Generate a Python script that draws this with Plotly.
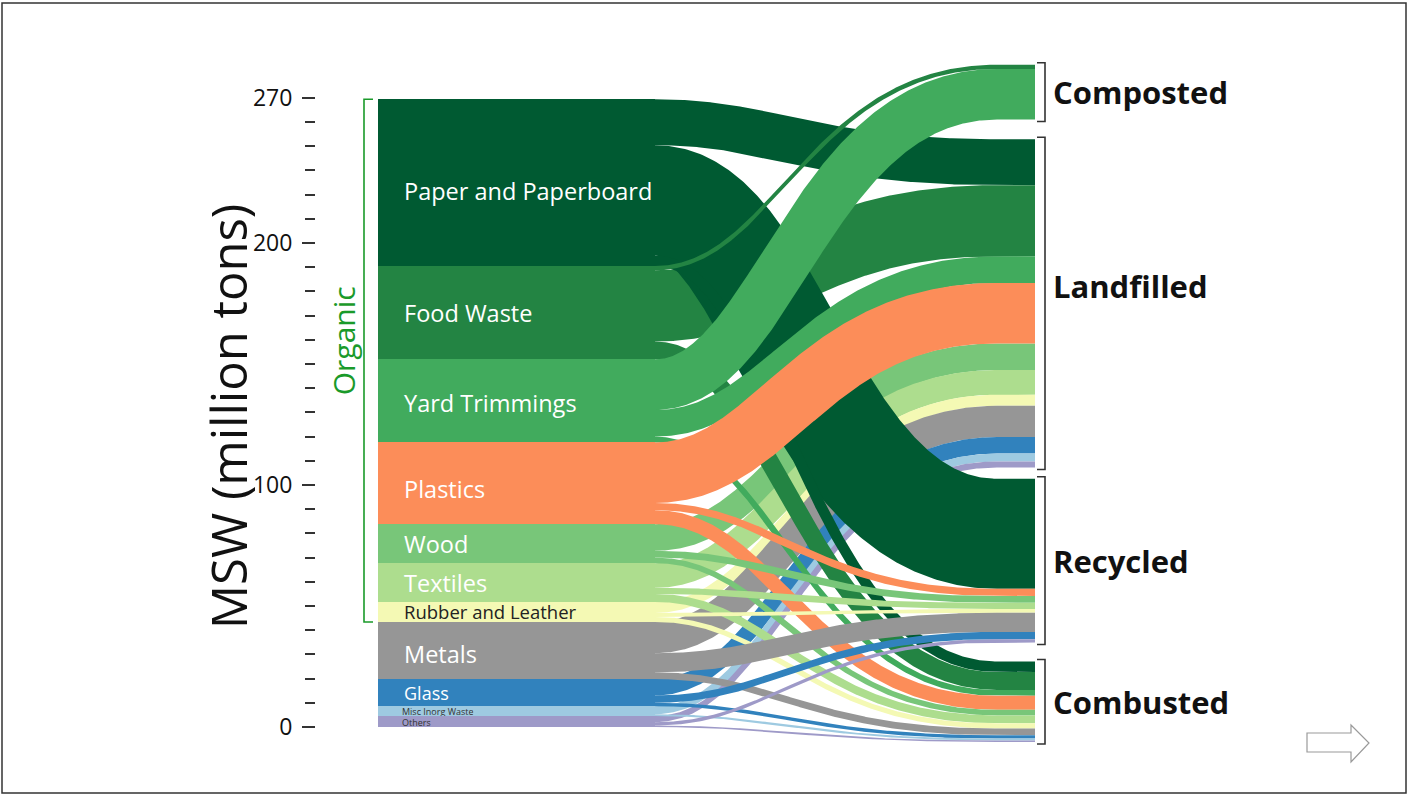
import numpy as np
import plotly.graph_objects as go

# ---------------- data (million tons) ----------------
materials = ["Paper and Paperboard", "Food Waste", "Yard Trimmings", "Plastics", "Wood",
             "Textiles", "Rubber and Leather", "Metals", "Glass", "Misc Inorg Waste", "Others"]
material_colors = ["#005a32", "#238443", "#41ab5d", "#fc8d59", "#78c679",
                   "#addd8e", "#f4f9b4", "#969696", "#3182bd", "#9ecae1", "#9e9ac8"]
label_colors = ["white", "white", "white", "white", "white",
                "white", "#222222", "white", "white", "#333333", "#333333"]
label_sizes = [23.5, 23.5, 23.5, 23.5, 23.5, 23.5, 18.5, 23.5, 18, 9, 9]
label_dy = [-3.5, 0, -1, -2.5, 0, 0, 0, -1.5, 0, 0, 0]
destinations = ["Composted", "Landfilled", "Recycled", "Combusted"]

composted = [0, 1.8, 20.9, 0, 0, 0, 0, 0, 0, 0, 0]
landfilled = [19.0, 29.4, 11.0, 25.0, 11.0, 10.2, 4.6, 12.9, 6.8, 3.3, 2.5]
recycled = [45.5, 0, 0, 3.0, 2.8, 2.5, 1.6, 7.9, 3.0, 0, 1.4]
combusted = [4.4, 7.4, 2.4, 5.8, 2.3, 3.3, 2.1, 2.8, 1.4, 0.8, 0.6]

y_tickvals = [0, 100, 200, 260]
y_ticktext = ["0", "100", "200", "270"]
y_minor_ticks = [v for v in range(10, 260, 10) if v not in (100, 200)]
organic_count = 7  # first seven materials are organic

# ---------------- layout constants ----------------
W, H = 1409, 796
S = 2.42                      # px per unit on both axes
PLOT_L, PLOT_R, PLOT_T, PLOT_B = 316, 1393, 60, 748
X0_PX, Y0_PX = 378, 727       # pixel location of data origin
BAR_W = (655 - 378) / S
LINK_END = (1035 - 378) / S
CURVE_FRAC = 0.9              # share of the link span used by the curve
CTRL1, CTRL2 = 0.35, 0.45     # bezier control point positions (share of curve span)
RIGHT_BASE = -6.2
RIGHT_GAPS = [8.1, 4.6, 7.8]  # gaps between right nodes (top to bottom)
FONT = "Open Sans"

xr = [(PLOT_L - X0_PX) / S, (PLOT_R - X0_PX) / S]
yr = [(Y0_PX - PLOT_B) / S, (Y0_PX - PLOT_T) / S]

flows = [composted, landfilled, recycled, combusted]
n_m = len(materials)
src_size = [sum(f[i] for f in flows) for i in range(n_m)]
total = sum(src_size)

src_top = []
acc = total
for s in src_size:
    src_top.append(acc)
    acc -= s

dst_size = [sum(f) for f in flows]
dst_top = [0] * 4
cur = RIGHT_BASE
for j in range(3, -1, -1):
    dst_top[j] = cur + dst_size[j]
    cur = dst_top[j] + (RIGHT_GAPS[j - 1] if j > 0 else 0)

src_cursor = list(src_top)
src_center = {}
for i in range(n_m):
    for j in range(4):
        v = flows[j][i]
        if v > 0:
            src_center[(i, j)] = src_cursor[i] - v / 2
            src_cursor[i] -= v
dst_cursor = list(dst_top)
dst_center = {}
for j in range(4):
    for i in range(n_m):
        v = flows[j][i]
        if v > 0:
            dst_center[(i, j)] = dst_cursor[j] - v / 2
            dst_cursor[j] -= v
links = [(i, j, flows[j][i], src_center[(i, j)], dst_center[(i, j)])
         for i in range(n_m) for j in range(4) if flows[j][i] > 0]


# drawing order: most landfill links first, then paper->recycled, then the rest
def z_key(l):
    i, j = l[0], l[1]
    if j == 1 and i not in (2, 3):
        return (0, i)
    if i == 0 and j == 2:
        return (1, 0)
    return (2, i * 4 + j)


links.sort(key=z_key)


def band(xs, ys, xt, yt, w, n=240):
    span = CURVE_FRAC * (xt - xs)
    xe = xs + span
    t = np.linspace(0, 1, n)
    p0 = np.array([xs, ys])
    p1 = np.array([xs + CTRL1 * span, ys])
    p2 = np.array([xs + CTRL2 * span, yt])
    p3 = np.array([xe, yt])
    tt = t[:, None]
    b = (1 - tt) ** 3 * p0 + 3 * (1 - tt) ** 2 * tt * p1 + 3 * (1 - tt) * tt ** 2 * p2 + tt ** 3 * p3
    d = 3 * (1 - tt) ** 2 * (p1 - p0) + 6 * (1 - tt) * tt * (p2 - p1) + 3 * tt ** 2 * (p3 - p2)
    nrm = np.stack([-d[:, 1], d[:, 0]], axis=1)
    nrm /= np.linalg.norm(nrm, axis=1)[:, None]
    up = b + nrm * w / 2
    lo = b - nrm * w / 2
    up = np.vstack([up, [[xt, yt + w / 2]]])
    lo = np.vstack([lo, [[xt, yt - w / 2]]])
    poly = np.vstack([up, lo[::-1], up[:1]])
    return poly[:, 0], poly[:, 1]


fig = go.Figure()

for (i, j, v, sy, ty) in links:
    px_, py_ = band(BAR_W, sy, LINK_END, ty, v)
    fig.add_trace(go.Scatter(x=px_, y=py_, mode="lines", fill="toself",
                             fillcolor=material_colors[i], line=dict(width=0),
                             hoverinfo="text",
                             text=f"{materials[i]} → {destinations[j]}: {v}",
                             showlegend=False))

fig.add_trace(go.Bar(x=[BAR_W / 2] * n_m, y=src_size,
                     base=[src_top[i] - src_size[i] for i in range(n_m)],
                     width=BAR_W, marker=dict(color=material_colors, line=dict(width=0)),
                     hovertext=materials, hoverinfo="text", showlegend=False))

annotations = []
for i, name in enumerate(materials):
    small = label_sizes[i] < 10
    ann = dict(x=(402 - 378) / S if not small else (401 - 378) / S,
               y=src_top[i] - src_size[i] / 2 + label_dy[i], xref="x", yref="y",
               text=name, showarrow=False, xanchor="left", yanchor="middle",
               font=dict(family=FONT, size=label_sizes[i], color=label_colors[i]))
    if small:
        ann.update(height=10, borderpad=0)
    annotations.append(ann)

shapes = []
BRK_X = (1045 - 378) / S
BRK_TICK = 8 / S
for j, name in enumerate(destinations):
    top = dst_top[j] + 0.8
    bot = dst_top[j] - dst_size[j] - 0.8
    shapes.append(dict(type="path", xref="x", yref="y",
                       path=f"M {BRK_X - BRK_TICK} {top} L {BRK_X} {top} L {BRK_X} {bot} L {BRK_X - BRK_TICK} {bot}",
                       line=dict(color="#333333", width=1.6)))
    dy = 7 if name == "Landfilled" else 0
    annotations.append(dict(x=(1051 - 378) / S, y=dst_top[j] - dst_size[j] / 2 + dy,
                            xref="x", yref="y", text=f"<b>{name}</b>", showarrow=False,
                            xanchor="left", yanchor="middle",
                            font=dict(family=FONT, size=31, color="#111111")))

org_top = src_top[0]
org_bot = src_top[organic_count - 1] - src_size[organic_count - 1]
OX = (364 - 378) / S
OT = (373 - 378) / S
shapes.append(dict(type="path", xref="x", yref="y",
                   path=f"M {OT} {org_top} L {OX} {org_top} L {OX} {org_bot} L {OT} {org_bot}",
                   line=dict(color="#1a9a2a", width=1.6)))
annotations.append(dict(x=(343 - 378) / S, y=(org_top + org_bot) / 2 + 8, xref="x", yref="y",
                        text="Organic", textangle=-90, showarrow=False,
                        xanchor="center", yanchor="middle",
                        font=dict(family=FONT, size=30, color="#1a9a2a")))

annotations.append(dict(x=(228 - PLOT_L) / (PLOT_R - PLOT_L), y=(Y0_PX - 417) / S,
                        xref="paper", yref="y", text="MSW (million tons)", textangle=-90,
                        showarrow=False, xanchor="center", yanchor="middle",
                        font=dict(family=FONT, size=49, color="#111111")))


def pxp(x, y):
    return (x - PLOT_L) / (PLOT_R - PLOT_L), (PLOT_B - y) / (PLOT_B - PLOT_T)


bx0, by0 = pxp(2, 3)
bx1, by1 = pxp(1406, 793)
shapes.append(dict(type="rect", xref="paper", yref="paper", x0=bx0, y0=by0, x1=bx1, y1=by1,
                   line=dict(color="#333333", width=1.5), fillcolor="rgba(0,0,0,0)"))
arrow_px = [(1307, 733), (1351, 733), (1351, 725), (1369, 743), (1351, 762), (1351, 752), (1307, 752)]
ap = [pxp(a, b) for a, b in arrow_px]
path = "M " + " L ".join(f"{a} {b}" for a, b in ap) + " Z"
shapes.append(dict(type="path", xref="paper", yref="paper", path=path,
                   line=dict(color="#9a9a9a", width=1.2), fillcolor="white"))

fig.update_layout(
    width=W, height=H,
    margin=dict(l=PLOT_L, r=W - PLOT_R, t=PLOT_T, b=H - PLOT_B, pad=0),
    paper_bgcolor="white", plot_bgcolor="white",
    barmode="overlay", bargap=0,
    showlegend=False,
    xaxis=dict(range=xr, visible=False, fixedrange=True),
    yaxis=dict(range=yr, showgrid=False, zeroline=False, showline=False,
               tickmode="array", tickvals=y_tickvals, ticktext=y_ticktext,
               ticks="outside", ticklen=13, tickwidth=1.5, tickcolor="#333333",
               ticklabelstandoff=5,
               tickfont=dict(family=FONT, size=23, color="#111111"),
               minor=dict(tickmode="array", tickvals=y_minor_ticks, ticks="outside",
                          ticklen=10, tickwidth=1.5, tickcolor="#333333"),
               fixedrange=True),
    shapes=shapes, annotations=annotations,
)

fig.write_html("out.html", config={"displayModeBar": False},
               post_script="document.body.style.margin='0';")
